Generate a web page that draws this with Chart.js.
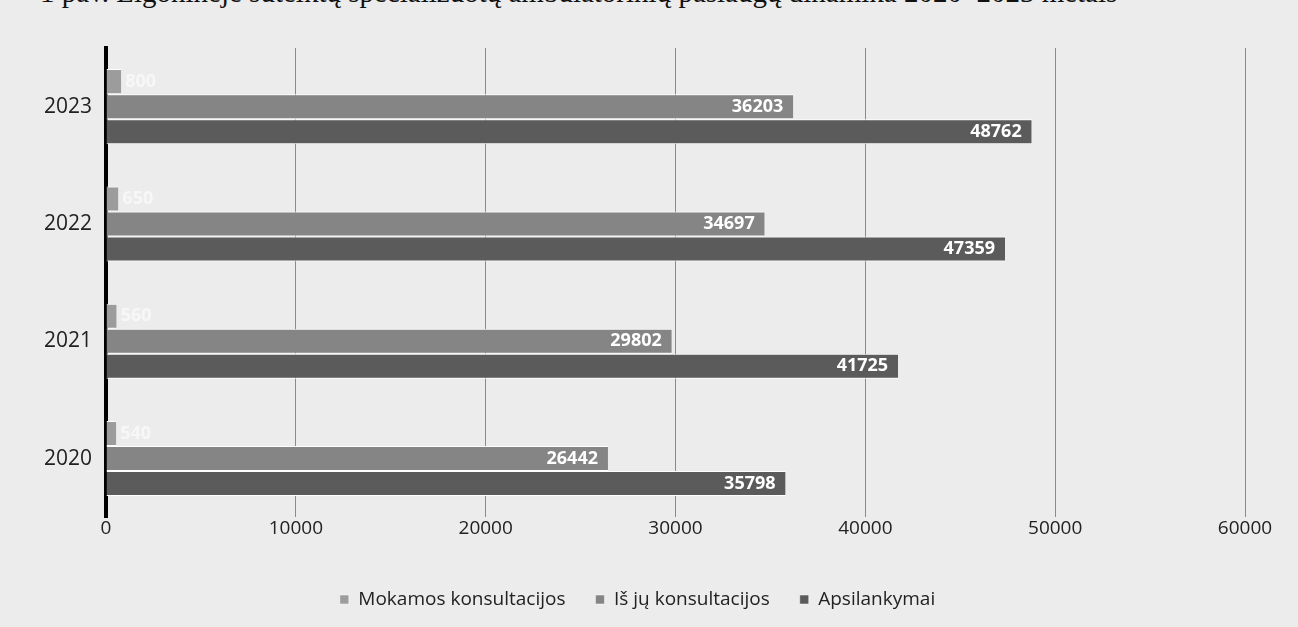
<!DOCTYPE html>
<html>
<head>
<meta charset="utf-8">
<script src="https://cdn.jsdelivr.net/npm/chart.js@4"></script>
<style>
  html, body { margin: 0; padding: 0; background: #ececec; overflow: hidden; }
  #wrap { position: relative; width: 1298px; height: 627px; }
  #title {
    position: absolute; left: 40px; top: -24px; white-space: nowrap;
    font-family: "Liberation Serif", serif; font-size: 29px; color: #111;
  }
  canvas { position: absolute; left: 0; top: 0; }
</style>
</head>
<body>
<div id="wrap">
  <div id="title">1 pav. Ligoninėje suteiktų specializuotų ambulatorinių paslaugų dinamika 2020–2023 metais</div>
  <canvas id="chart" width="1298" height="627"></canvas>
</div>
<script>
// metai (iš viršaus į apačią)
const years = ["2023", "2022", "2021", "2020"];
const mokamos = [800, 650, 560, 540];
const isJu = [36203, 34697, 29802, 26442];
const apsilankymai = [48762, 47359, 41725, 35798];
const xTicks = [0, 10000, 20000, 30000, 40000, 50000, 60000];

// reikšmių užrašai ant stulpelių
const barLabels = {
  id: "barLabels",
  afterDatasetsDraw(chart) {
    const ctx = chart.ctx;
    ctx.save();
    ctx.font = "bold 18px 'Open Sans'";
    ctx.textBaseline = "middle";
    chart.data.datasets.forEach((ds, i) => {
      chart.getDatasetMeta(i).data.forEach((bar, j) => {
        const v = ds.data[j];
        if (i === 0) {
          ctx.fillStyle = "rgba(255,255,255,0.6)";
          ctx.textAlign = "left";
          ctx.fillText(v, bar.x + 4, bar.y);
        } else {
          ctx.fillStyle = "#ffffff";
          ctx.textAlign = "right";
          ctx.fillText(v, bar.x - 10, bar.y);
        }
      });
    });
    ctx.restore();
  }
};

const ctx = document.getElementById("chart").getContext("2d");
new Chart(ctx, {
  type: "bar",
  data: {
    labels: years,
    datasets: [
      { label: "Mokamos konsultacijos", data: mokamos, backgroundColor: "#9c9c9c" },
      { label: "Iš jų konsultacijos", data: isJu, backgroundColor: "#858585" },
      { label: "Apsilankymai", data: apsilankymai, backgroundColor: "#5b5b5b" },
    ],
  },
  options: {
    indexAxis: "y",
    responsive: false,
    animation: false,
    layout: { padding: { left: 30, right: 53, top: 48, bottom: 8 } },
    datasets: {
      bar: {
        categoryPercentage: 0.64,
        barPercentage: 1,
        borderColor: "#ffffff",
        borderWidth: { top: 1, bottom: 1 },
        borderSkipped: "left",
      },
    },
    scales: {
      x: {
        min: 0,
        max: 60000,
        afterBuildTicks: (axis) => { axis.ticks = xTicks.map((v) => ({ value: v })); },
        afterFit: (axis) => { axis.height += 20; },
        grid: { color: "#8a8a8a", lineWidth: 1, drawTicks: false },
        border: { display: false },
        ticks: {
          color: "#222",
          font: { family: "Open Sans", size: 19 },
          padding: 0,
          callback: (v) => String(v),
        },
      },
      y: {
        grid: { display: false, drawTicks: false },
        border: { display: true, color: "#000", width: 4 },
        ticks: { color: "#222", font: { family: "Open Sans", size: 21 }, padding: 14 },
      },
    },
    plugins: {
      legend: {
        position: "bottom",
        labels: {
          color: "#222",
          font: { family: "Open Sans", size: 19 },
          boxWidth: 9,
          boxHeight: 9,
          padding: 30,
        },
      },
      tooltip: { enabled: false },
    },
  },
  plugins: [barLabels],
});
</script>
</body>
</html>
